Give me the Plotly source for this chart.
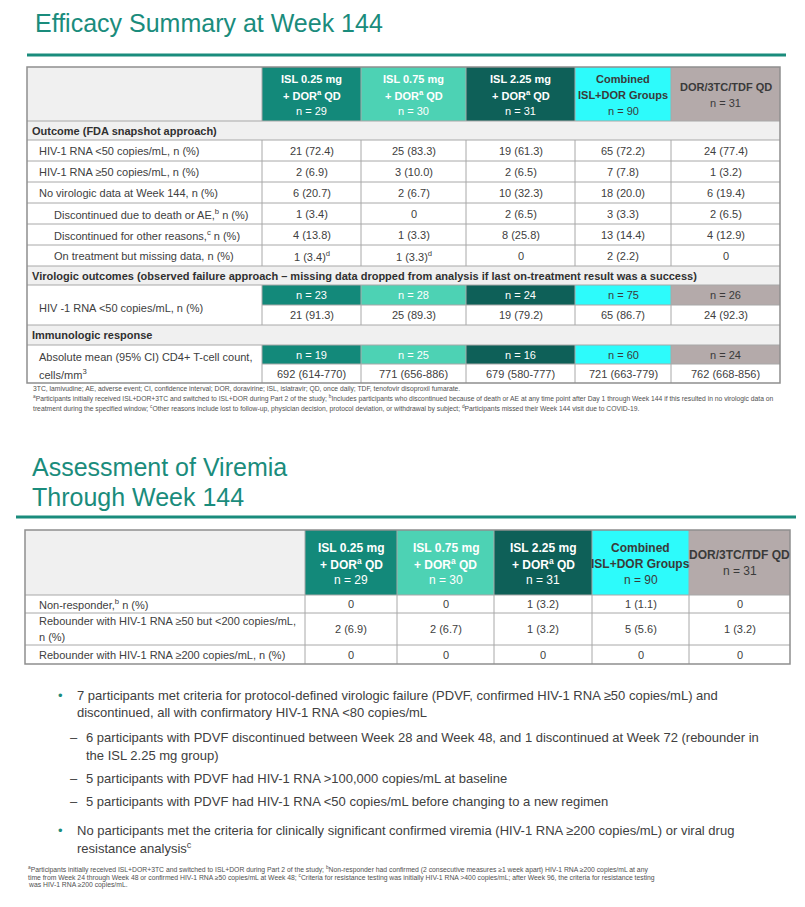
import plotly.graph_objects as go

# ---------------- data ----------------
title_1 = "Efficacy Summary at Week 144"
title_2 = ["Assessment of Viremia", "Through Week 144"]

group_names = [
    ["ISL 0.25 mg", "+ DOR<sup>a</sup> QD"],
    ["ISL 0.75 mg", "+ DOR<sup>a</sup> QD"],
    ["ISL 2.25 mg", "+ DOR<sup>a</sup> QD"],
    ["Combined", "ISL+DOR Groups"],
    ["DOR/3TC/TDF QD"],
]
group_n = [29, 30, 31, 90, 31]

snapshot_header = "Outcome (FDA snapshot approach)"
snapshot_labels = [
    "HIV-1 RNA <50 copies/mL, n (%)",
    "HIV-1 RNA ≥50 copies/mL, n (%)",
    "No virologic data at Week 144, n (%)",
    "Discontinued due to death or AE,<sup>b</sup> n (%)",
    "Discontinued for other reasons,<sup>c</sup> n (%)",
    "On treatment but missing data, n (%)",
]
snapshot_level = [0, 0, 0, 1, 1, 1]
snapshot_values = [
    ["21 (72.4)", "25 (83.3)", "19 (61.3)", "65 (72.2)", "24 (77.4)"],
    ["2 (6.9)", "3 (10.0)", "2 (6.5)", "7 (7.8)", "1 (3.2)"],
    ["6 (20.7)", "2 (6.7)", "10 (32.3)", "18 (20.0)", "6 (19.4)"],
    ["1 (3.4)", "0", "2 (6.5)", "3 (3.3)", "2 (6.5)"],
    ["4 (13.8)", "1 (3.3)", "8 (25.8)", "13 (14.4)", "4 (12.9)"],
    ["1 (3.4)<sup>d</sup>", "1 (3.3)<sup>d</sup>", "0", "2 (2.2)", "0"],
]

observed_header = ("Virologic outcomes (observed failure approach – missing data dropped "
                   "from analysis if last on-treatment result was a success)")
observed_label = ["HIV -1 RNA <50 copies/mL, n (%)"]
observed_n = [23, 28, 24, 75, 26]
observed_values = ["21 (91.3)", "25 (89.3)", "19 (79.2)", "65 (86.7)", "24 (92.3)"]

immuno_header = "Immunologic response"
immuno_label = ["Absolute mean (95% CI) CD4+ T-cell count,", "cells/mm<sup>3</sup>"]
immuno_n = [19, 25, 16, 60, 24]
immuno_values = ["692 (614-770)", "771 (656-886)", "679 (580-777)", "721 (663-779)", "762 (668-856)"]

footnotes_1 = [
    "3TC, lamivudine; AE, adverse event; CI, confidence interval; DOR, doravirine; ISL, islatravir; QD, once daily; TDF, tenofovir disoproxil fumarate.",
    "<sup>a</sup>Participants initially received ISL+DOR+3TC and switched to ISL+DOR during Part 2 of the study; <sup>b</sup>Includes participants who discontinued because of death or AE at any time point after Day 1 through Week 144 if this resulted in no virologic data on",
    "treatment during the specified window; <sup>c</sup>Other reasons include lost to follow-up, physician decision, protocol deviation, or withdrawal by subject; <sup>d</sup>Participants missed their Week 144 visit due to COVID-19.",
]

viremia_labels = [
    ["Non-responder,<sup>b</sup> n (%)"],
    ["Rebounder with HIV-1 RNA ≥50 but <200 copies/mL,", "n (%)"],
    ["Rebounder with HIV-1 RNA ≥200 copies/mL, n (%)"],
]
viremia_values = [
    ["0", "0", "1 (3.2)", "1 (1.1)", "0"],
    ["2 (6.9)", "2 (6.7)", "1 (3.2)", "5 (5.6)", "1 (3.2)"],
    ["0", "0", "0", "0", "0"],
]

bullets = [
    (0, ["7 participants met criteria for protocol-defined virologic failure (PDVF, confirmed HIV-1 RNA ≥50 copies/mL) and",
         "discontinued, all with confirmatory HIV-1 RNA <80 copies/mL"]),
    (1, ["6 participants with PDVF discontinued between Week 28 and Week 48, and 1 discontinued at Week 72 (rebounder in",
         "the ISL 2.25 mg group)"]),
    (1, ["5 participants with PDVF had HIV-1 RNA >100,000 copies/mL at baseline"]),
    (1, ["5 participants with PDVF had HIV-1 RNA <50 copies/mL before changing to a new regimen"]),
    (0, ["No participants met the criteria for clinically significant confirmed viremia (HIV-1 RNA ≥200 copies/mL) or viral drug",
         "resistance analysis<sup>c</sup>"]),
]

footnotes_2 = [
    "<sup>a</sup>Participants initially received ISL+DOR+3TC and switched to ISL+DOR during Part 2 of the study; <sup>b</sup>Non-responder had confirmed (2 consecutive measures ≥1 week apart) HIV-1 RNA ≥200 copies/mL at any",
    "time from Week 24 through Week 48 or confirmed HIV-1 RNA ≥50 copies/mL at Week 48; <sup>c</sup>Criteria for resistance testing was initially HIV-1 RNA >400 copies/mL; after Week 96, the criteria for resistance testing",
    "was HIV-1 RNA ≥200 copies/mL.",
]

# ---------------- styles / layout ----------------
W, H = 805, 907
PAGE_OFF = 8  # default page margin of the html body
FONT = "Liberation Sans, Arial, sans-serif"
TEAL = "#1A8C7C"
TXT = "#404040"
GRID = "#A8A8A8"
LIGHT = "#F0F0F0"
group_colors = ["#13897A", "#4DD2B4", "#0E6058", "#2DFBFB", "#B4AAAA"]
group_text = ["white", "white", "white", "#3A3A3A", "#3A3A3A"]

S_T1 = 11          # table 1 text
S_T2H = 12         # table 2 header
S_T2 = 11          # table 2 body
S_TITLE = 25
S_BUL = 13

fig = go.Figure()
fig.add_trace(go.Scatter(x=[PAGE_OFF, W], y=[PAGE_OFF, H], mode="markers", marker=dict(opacity=0),
                         hoverinfo="skip", showlegend=False))


def rect(x0, y0, x1, y1, fill=None, line=None, lw=1):
    fig.add_shape(type="rect", xref="x", yref="y", x0=x0, y0=y0, x1=x1, y1=y1,
                  fillcolor=fill if fill else "rgba(0,0,0,0)",
                  line=dict(color=line if line else "rgba(0,0,0,0)", width=lw if line else 0),
                  layer="below")


def hline(x0, x1, y, color=GRID, lw=1):
    fig.add_shape(type="line", xref="x", yref="y", x0=x0, x1=x1, y0=y, y1=y,
                  line=dict(color=color, width=lw), layer="below")


def vline(x, y0, y1, color=GRID, lw=1):
    fig.add_shape(type="line", xref="x", yref="y", x0=x, x1=x, y0=y0, y1=y1,
                  line=dict(color=color, width=lw), layer="below")


def text(x, y, s, size, color=TXT, bold=False, anchor="center"):
    if bold:
        s = "<b>" + s + "</b>"
    fig.add_annotation(x=x, y=y, xref="x", yref="y", text=s, showarrow=False,
                       xanchor=anchor, yanchor="middle", borderpad=0,
                       font=dict(family=FONT, size=size, color=color))


# ---------------- titles ----------------
text(34, 23, title_1, S_TITLE, TEAL, anchor="left")
hline(27, 786, 55, TEAL, 3)
text(31, 467, title_2[0], S_TITLE, TEAL, anchor="left")
text(31, 497, title_2[1], S_TITLE, TEAL, anchor="left")
hline(16, 796, 517, TEAL, 3)

# ---------------- table 1 ----------------
cx1 = [27, 262, 361, 466, 575, 671, 780]
top1, hdr1 = 67, 121
snap_sec = (121, 140)
snap_rows = [140, 161, 182, 203, 224, 245, 266]
obs_sec = (266, 285)
obs_rows = (285, 305, 325)
imm_sec = (325, 345)
imm_rows = (345, 364, 383)
bot1 = 383

rect(cx1[0], top1, cx1[1], hdr1, LIGHT)
for i in range(5):
    rect(cx1[i + 1], top1, cx1[i + 2], hdr1, group_colors[i])
for sec in (snap_sec, obs_sec, imm_sec):
    rect(cx1[0], sec[0], cx1[6], sec[1], LIGHT)
for i in range(5):
    rect(cx1[i + 1], obs_rows[0], cx1[i + 2], obs_rows[1], group_colors[i])
    rect(cx1[i + 1], imm_rows[0], cx1[i + 2], imm_rows[1], group_colors[i])

for y in [hdr1] + snap_rows + [obs_rows[0], obs_rows[2], imm_rows[0]]:
    hline(cx1[0], cx1[6], y)
hline(cx1[1], cx1[6], obs_rows[1])
hline(cx1[1], cx1[6], imm_rows[1])
for x in cx1[1:6]:
    vline(x, top1, hdr1)
    vline(x, snap_rows[0], snap_rows[-1])
    vline(x, obs_rows[0], obs_rows[2])
    vline(x, imm_rows[0], imm_rows[2])
rect(cx1[0], top1, cx1[6], bot1, None, "#8F8F8F", 1.5)

for i in range(5):
    cx = (cx1[i + 1] + cx1[i + 2]) / 2
    lines = group_names[i]
    if len(lines) == 2:
        text(cx, 79, lines[0], S_T1, group_text[i], bold=True)
        text(cx, 95, lines[1], S_T1, group_text[i], bold=True)
        text(cx, 111, "n = %d" % group_n[i], S_T1, group_text[i])
    else:
        text(cx, 87, lines[0], S_T1, group_text[i], bold=True)
        text(cx, 103, "n = %d" % group_n[i], S_T1, group_text[i])

text(31, (snap_sec[0] + snap_sec[1]) / 2, snapshot_header, S_T1, "#303030", bold=True, anchor="left")
for r, lab in enumerate(snapshot_labels):
    yc = (snap_rows[r] + snap_rows[r + 1]) / 2
    text(38 + 15 * snapshot_level[r], yc, lab, S_T1, anchor="left")
    for i in range(5):
        text((cx1[i + 1] + cx1[i + 2]) / 2, yc, snapshot_values[r][i], S_T1)

text(31, (obs_sec[0] + obs_sec[1]) / 2, observed_header, S_T1, "#303030", bold=True, anchor="left")
text(38, 308, observed_label[0], S_T1, anchor="left")
for i in range(5):
    cx = (cx1[i + 1] + cx1[i + 2]) / 2
    text(cx, (obs_rows[0] + obs_rows[1]) / 2, "n = %d" % observed_n[i], S_T1, group_text[i])
    text(cx, (obs_rows[1] + obs_rows[2]) / 2, observed_values[i], S_T1)

text(31, (imm_sec[0] + imm_sec[1]) / 2, immuno_header, S_T1, "#303030", bold=True, anchor="left")
text(38, 357, immuno_label[0], S_T1, anchor="left")
text(38, 374, immuno_label[1], S_T1, anchor="left")
for i in range(5):
    cx = (cx1[i + 1] + cx1[i + 2]) / 2
    text(cx, (imm_rows[0] + imm_rows[1]) / 2, "n = %d" % immuno_n[i], S_T1, group_text[i])
    text(cx, (imm_rows[1] + imm_rows[2]) / 2, immuno_values[i], S_T1)

for k, fn in enumerate(footnotes_1):
    text(32, 389 + 9.5 * k, fn, 6.75, "#505050", anchor="left")

# ---------------- table 2 ----------------
cx2 = [25, 305, 397, 494, 592, 689, 790]
top2, hdr2 = 530, 595
rows2 = [595, 613, 645, 664]

rect(cx2[0], top2, cx2[1], hdr2, LIGHT)
for i in range(5):
    rect(cx2[i + 1], top2, cx2[i + 2], hdr2, group_colors[i])
for y in rows2[:-1]:
    hline(cx2[0], cx2[6], y)
for x in cx2[1:6]:
    vline(x, top2, rows2[-1])
rect(cx2[0], top2, cx2[6], rows2[-1], None, "#8F8F8F", 1.5)

for i in range(5):
    cx = (cx2[i + 1] + cx2[i + 2]) / 2
    lines = group_names[i]
    if len(lines) == 2:
        text(cx, 548, lines[0], S_T2H, group_text[i], bold=True)
        text(cx, 564, lines[1], S_T2H, group_text[i], bold=True)
        text(cx, 580, "n = %d" % group_n[i], S_T2H, group_text[i])
    else:
        text(cx, 555, lines[0], S_T2H, group_text[i], bold=True)
        text(cx, 571, "n = %d" % group_n[i], S_T2H, group_text[i])

for r, labs in enumerate(viremia_labels):
    yc = (rows2[r] + rows2[r + 1]) / 2
    if len(labs) == 1:
        text(38, yc, labs[0], S_T2, anchor="left")
    else:
        text(38, yc - 8, labs[0], S_T2, anchor="left")
        text(38, yc + 8, labs[1], S_T2, anchor="left")
    for i in range(5):
        text((cx2[i + 1] + cx2[i + 2]) / 2, yc, viremia_values[r][i], S_T2)

# ---------------- bullets ----------------
line_y = [[695, 712], [737, 755], [778], [801], [830, 848]]
for (lvl, lines), ys in zip(bullets, line_y):
    if lvl == 0:
        text(57, ys[0], "•", S_BUL, TEAL, anchor="left")
        x_txt = 76
    else:
        text(69, ys[0], "–", S_BUL, TXT, anchor="left")
        x_txt = 85
    for ln, yy in zip(lines, ys):
        text(x_txt, yy, ln, S_BUL, TXT, anchor="left")

for k, fn in enumerate(footnotes_2):
    text(27, 869 + 8.2 * k, fn, 6.8, "#505050", anchor="left")

fig.update_layout(
    width=W - PAGE_OFF, height=H - PAGE_OFF,
    margin=dict(l=0, r=0, t=0, b=0),
    paper_bgcolor="white", plot_bgcolor="white",
    xaxis=dict(range=[PAGE_OFF, W], visible=False, fixedrange=True),
    yaxis=dict(range=[H, PAGE_OFF], visible=False, fixedrange=True),
    showlegend=False,
)
fig.write_html("out.html")
